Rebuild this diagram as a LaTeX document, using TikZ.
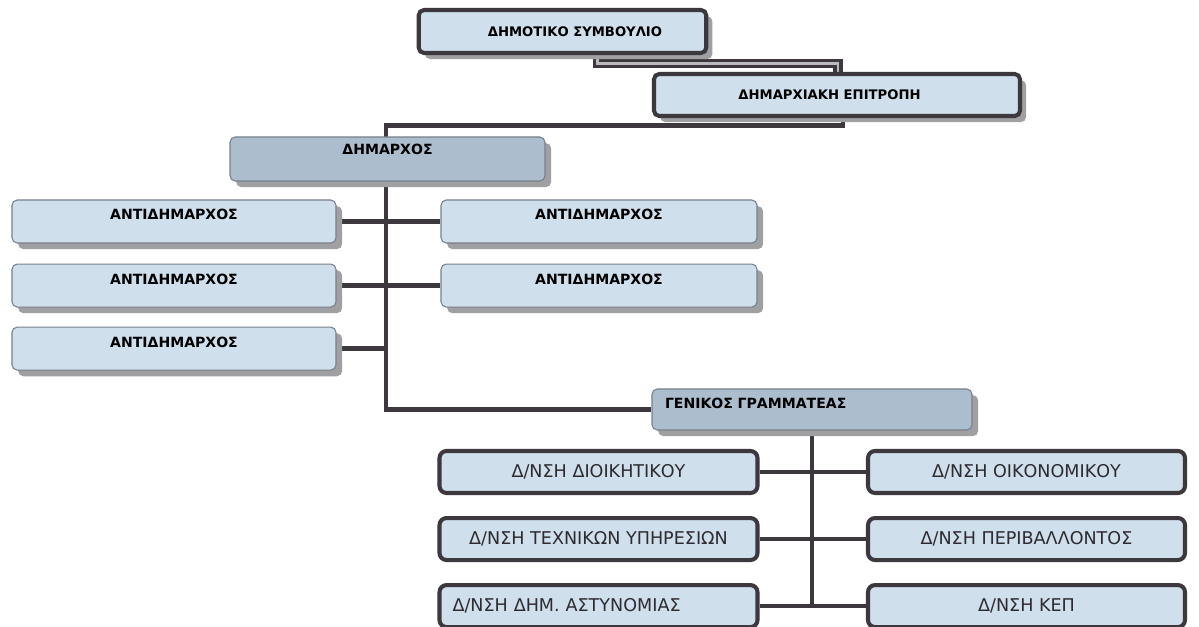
\documentclass[tikz,border=0pt]{standalone}
\usepackage{fontspec}
\setmainfont{DejaVu Sans}
\usepackage{xcolor}
\usepackage{tikz}
\usetikzlibrary{positioning, shadows, backgrounds}

\definecolor{boxblue}{RGB}{207,223,236}
\definecolor{headblue}{RGB}{172,190,205}
\definecolor{edgegray}{RGB}{118,128,140}
\definecolor{darkedge}{RGB}{60,56,62}
\definecolor{shadowgray}{RGB}{160,160,162}
\definecolor{bandgray}{RGB}{185,185,190}
\definecolor{dirtext}{RGB}{45,42,48}

\begin{document}
\begin{tikzpicture}[
        % Node styles
        orgbox/.style={rectangle, rounded corners=3pt, fill=boxblue, align=center,
                       drop shadow={shadow xshift=3.5pt, shadow yshift=-3.5pt, fill=shadowgray, opacity=1}},
        topbox/.style={orgbox, draw=darkedge, line width=2.3pt, font=\fontsize{7.5}{9}\selectfont\bfseries},
        midbox/.style={orgbox, draw=edgegray, line width=0.6pt, inner ysep=0pt,
                       font=\fontsize{8}{9.5}\selectfont\bfseries},
        headbox/.style={midbox, fill=headblue},
        deputy/.style={midbox, text height=0.4cm, text depth=0.46cm},
        dirbox/.style={rectangle, rounded corners=4pt, fill=boxblue, draw=darkedge, line width=2.3pt,
                       text=dirtext, font=\fontsize{10}{12}\selectfont, minimum width=6.36cm, minimum height=0.84cm},
        % Connector styles
        link/.style={draw=darkedge, line width=2.6pt},
        bandlink/.style={draw=darkedge, line width=1.8pt, double=bandgray, double distance=1.6pt}
    ]
        \useasboundingbox (0,0) rectangle (23.98,-12.54);

        % Top of the chart
        \node[topbox, minimum width=5.75cm, minimum height=0.86cm] (council) at (11.25,-0.63) {\hspace*{0.5cm}ΔΗΜΟΤΙΚΟ ΣΥΜΒΟΥΛΙΟ};
        \node[topbox, minimum width=7.32cm, minimum height=0.84cm] (committee) at (16.74,-1.90) {ΔΗΜΑΡΧΙΑΚΗ ΕΠΙΤΡΟΠΗ\hspace*{0.3cm}};
        \node[headbox, minimum width=6.3cm, text height=0.36cm, text depth=0.52cm] (mayor) at (7.75,-3.18) {ΔΗΜΑΡΧΟΣ};

        % Deputy mayors
        \node[deputy, minimum width=6.48cm] (deputya) at (3.48,-4.43) {ΑΝΤΙΔΗΜΑΡΧΟΣ};
        \node[deputy, minimum width=6.48cm, below=0.4cm of deputya] (deputyb) {ΑΝΤΙΔΗΜΑΡΧΟΣ};
        \node[deputy, minimum width=6.48cm, below=0.38cm of deputyb] (deputyc) {ΑΝΤΙΔΗΜΑΡΧΟΣ};
        \node[deputy, minimum width=6.32cm] (deputyd) at (11.98,-4.43) {ΑΝΤΙΔΗΜΑΡΧΟΣ};
        \node[deputy, minimum width=6.32cm, below=0.4cm of deputyd] (deputye) {ΑΝΤΙΔΗΜΑΡΧΟΣ};

        % Secretary general and directorates
        \node[headbox, inner xsep=0.26cm, text width=5.88cm, align=left,
              text height=0.4cm, text depth=0.42cm] (secretary) at (16.24,-8.19) {ΓΕΝΙΚΟΣ ΓΡΑΜΜΑΤΕΑΣ};
        \node[dirbox] (diradmin) at (11.97,-9.44) {Δ/ΝΣΗ ΔΙΟΙΚΗΤΙΚΟΥ};
        \node[dirbox, below=0.42cm of diradmin] (dirtech) {Δ/ΝΣΗ ΤΕΧΝΙΚΩΝ ΥΠΗΡΕΣΙΩΝ};
        \node[dirbox, below=0.42cm of dirtech, inner xsep=0.26cm, text width=5.84cm, align=left] (dirpolice) {Δ/ΝΣΗ ΔΗΜ. ΑΣΤΥΝΟΜΙΑΣ};
        \node[dirbox, minimum width=6.34cm] (dirfinance) at (20.53,-9.44) {Δ/ΝΣΗ ΟΙΚΟΝΟΜΙΚΟΥ};
        \node[dirbox, minimum width=6.34cm, below=0.42cm of dirfinance] (direnv) {Δ/ΝΣΗ ΠΕΡΙΒΑΛΛΟΝΤΟΣ};
        \node[dirbox, minimum width=6.34cm, below=0.42cm of direnv] (dirkep) {Δ/ΝΣΗ ΚΕΠ};

        \coordinate (trunk) at (7.72,-2.51);

        \begin{scope}[on background layer]
            \fill[white] (0,0) rectangle (23.98,-12.54);
            % Council to committee
            \draw[bandlink] ([xshift=0.7cm]council.center) -- ++(0,-0.64) -| ([xshift=0.02cm]committee.center);
            % Main trunk
            \draw[link] ([xshift=0.12cm]committee.south) |- (trunk) |- (secretary.west);
            \draw[link] (deputya.east) -- (deputyd.west);
            \draw[link] (deputyb.east) -- (deputye.west);
            \draw[link] (deputyc.east) -- (deputyc.east -| trunk);
            % Directorates
            \draw[link] (secretary.south) -- (secretary.south |- dirpolice.east);
            \draw[link] (diradmin.east) -- (dirfinance.west);
            \draw[link] (dirtech.east) -- (direnv.west);
            \draw[link] (dirpolice.east) -- (dirkep.west);
        \end{scope}
    \end{tikzpicture}
\end{document}
